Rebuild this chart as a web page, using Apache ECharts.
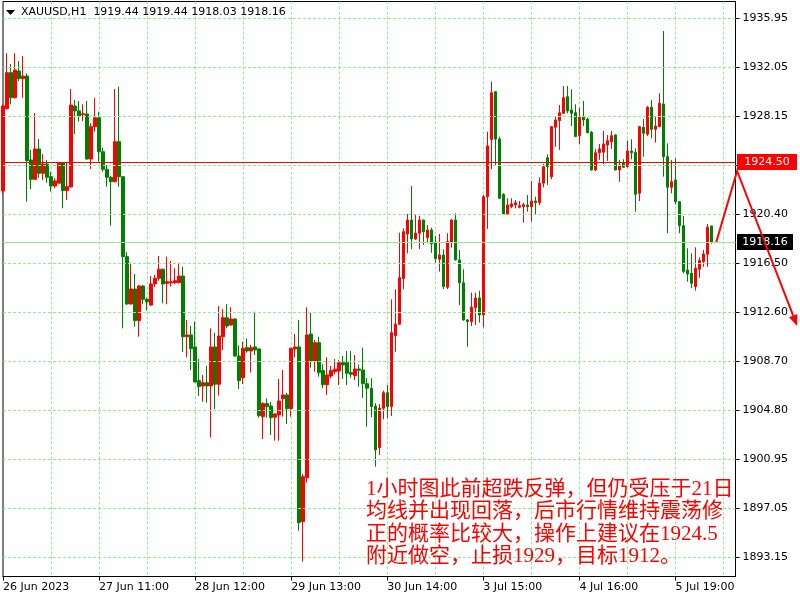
<!DOCTYPE html>
<html><head><meta charset="utf-8">
<script src="https://cdn.jsdelivr.net/npm/echarts@6/dist/echarts.min.js"></script>
<style>html,body{margin:0;padding:0;background:#fff}#c{width:800px;height:600px}</style>
</head><body><div id="c"></div>
<script>
const symbolName = 'XAUUSD,H1';
const opens = [1922.21,1928.75,1931.61,1929.62,1931.74,1931.13,1931.34,1924.68,1923.14,1925.55,
1923.62,1924.36,1923.35,1922.61,1922.83,1924.46,1922.24,1922.53,1928.96,1928.57,
1928.27,1928.33,1924.75,1927.32,1928.03,1925.33,1923.94,1923.30,1922.95,1926.13,
1923.35,1917.00,1913.24,1914.43,1911.92,1914.67,1913.61,1913.15,1914.83,1915.28,
1916.00,1914.88,1914.93,1914.93,1914.93,1915.46,1910.64,1910.78,1909.83,1907.15,
1906.73,1906.99,1906.73,1909.83,1906.87,1910.64,1912.15,1911.57,1912.05,1909.11,
1907.39,1909.77,1909.51,1909.83,1909.67,1904.29,1905.33,1905.14,1904.25,1904.43,
1905.72,1906.02,1904.93,1909.67,1909.83,1895.96,1899.45,1910.86,1908.72,1910.17,
1907.95,1906.83,1907.52,1907.87,1907.92,1908.58,1908.58,1907.79,1907.55,1908.08,
1908.00,1906.91,1906.55,1905.14,1901.83,1904.96,1906.20,1905.09,1910.72,1911.63,
1915.25,1918.80,1919.91,1918.40,1918.86,1919.91,1918.51,1919.12,1918.11,1916.79,
1917.13,1914.57,1918.11,1919.91,1916.74,1914.93,1911.97,1911.84,1912.95,1913.72,
1912.37,1921.76,1926.30,1930.10,1926.34,1921.95,1920.39,1920.97,1921.10,1920.92,
1920.97,1921.10,1920.97,1921.42,1921.28,1922.83,1924.86,1923.35,1927.27,1927.80,
1928.38,1929.70,1928.65,1928.43,1926.60,1928.09,1927.93,1926.87,1923.88,1925.25,
1925.29,1925.87,1926.13,1926.66,1923.88,1924.46,1924.14,1925.39,1925.29,1922.03,
1927.27,1926.72,1928.86,1927.11,1927.32,1929.12,1924.94,1922.51,1923.09,1921.36,
1919.46,1915.94,1915.68,1914.62,1916.00,1916.60,1917.19,1919.44];
const closes = [1928.96,1931.61,1929.62,1931.82,1931.13,1931.34,1924.62,1923.14,1925.55,1923.62,
1924.36,1923.30,1922.61,1923.01,1924.46,1922.24,1922.56,1929.04,1928.57,1928.17,
1928.35,1924.75,1927.32,1928.03,1925.33,1923.94,1923.30,1922.95,1926.13,1923.35,
1917.00,1913.24,1914.43,1911.92,1914.67,1913.61,1913.42,1914.83,1915.28,1916.00,
1914.83,1915.01,1915.01,1915.09,1915.46,1910.64,1910.78,1909.69,1907.05,1906.68,
1906.99,1906.73,1909.83,1906.87,1910.70,1912.15,1911.49,1912.05,1909.11,1907.15,
1909.72,1909.51,1909.77,1909.59,1904.37,1905.33,1905.09,1904.21,1904.51,1905.54,
1906.02,1904.93,1909.72,1909.83,1895.88,1899.53,1910.78,1908.72,1910.17,1907.79,
1906.83,1907.60,1907.95,1908.06,1908.58,1908.40,1907.74,1907.66,1908.08,1907.98,
1906.91,1906.55,1905.09,1901.65,1904.96,1906.20,1905.09,1910.96,1911.65,1915.33,
1918.98,1919.91,1918.40,1918.86,1919.91,1918.98,1919.12,1918.01,1916.84,1917.13,
1914.62,1918.19,1919.91,1916.74,1914.93,1911.97,1911.84,1912.98,1913.72,1912.37,
1921.76,1925.79,1930.02,1926.34,1921.63,1920.39,1921.10,1921.18,1921.28,1921.05,
1921.13,1920.97,1921.42,1921.28,1922.83,1924.14,1924.14,1927.32,1927.85,1928.43,
1929.62,1928.57,1928.38,1926.53,1928.11,1927.85,1926.84,1923.88,1925.25,1925.55,
1925.95,1926.21,1926.60,1923.88,1924.28,1924.10,1925.39,1925.25,1921.95,1927.32,
1926.80,1928.86,1927.11,1927.37,1929.18,1924.94,1922.51,1922.95,1921.36,1919.46,
1915.81,1915.62,1914.88,1916.08,1916.68,1917.21,1919.33,1918.16];
const lows = [1921.98,1928.70,1929.10,1929.55,1930.95,1929.62,1921.36,1922.35,1923.10,1923.27,
1923.09,1922.87,1922.16,1922.43,1922.83,1920.84,1921.50,1922.50,1926.74,1927.72,
1927.77,1924.70,1923.96,1926.92,1924.54,1923.75,1922.56,1919.46,1922.90,1922.56,
1911.31,1913.16,1913.20,1911.44,1910.64,1913.22,1912.71,1913.10,1914.57,1915.09,
1913.30,1913.22,1914.62,1914.83,1914.88,1909.43,1909.01,1908.00,1906.99,1905.94,
1905.48,1905.40,1902.63,1904.90,1905.96,1909.59,1911.31,1911.55,1909.05,1906.49,
1906.89,1909.37,1907.79,1909.19,1904.21,1902.52,1904.21,1902.84,1902.39,1902.39,
1904.29,1903.71,1904.29,1909.01,1895.24,1892.78,1899.05,1908.18,1907.87,1907.47,
1906.55,1906.02,1907.34,1907.66,1906.81,1907.29,1906.81,1907.39,1907.21,1906.68,
1905.78,1903.50,1904.25,1900.32,1901.25,1904.09,1904.17,1904.35,1909.45,1911.58,
1914.41,1917.27,1917.61,1918.32,1917.61,1917.93,1918.06,1917.31,1916.52,1915.81,
1914.43,1914.43,1917.71,1916.70,1913.16,1911.92,1909.85,1911.49,1911.57,1911.76,
1911.39,1919.20,1923.96,1924.28,1921.60,1920.35,1920.35,1920.84,1920.84,1920.84,
1919.70,1920.57,1919.78,1920.36,1921.10,1922.51,1922.69,1923.14,1925.73,1925.47,
1928.35,1928.38,1927.37,1926.50,1925.92,1927.37,1926.80,1923.83,1923.80,1924.68,
1924.33,1924.60,1925.55,1923.85,1922.95,1924.05,1924.10,1924.73,1920.57,1921.42,
1924.94,1926.58,1926.40,1926.05,1927.30,1923.35,1918.86,1922.03,1921.16,1918.86,
1915.68,1915.01,1914.49,1914.30,1915.33,1916.20,1916.20,1918.03];
const highs = [1929.12,1933.15,1932.30,1933.15,1932.54,1932.93,1931.56,1925.47,1928.38,1926.34,
1925.13,1924.68,1923.75,1923.22,1924.50,1924.50,1924.46,1930.31,1929.44,1929.36,
1929.10,1929.36,1927.59,1929.62,1928.51,1925.65,1924.28,1923.40,1930.31,1930.50,
1923.35,1917.35,1916.52,1915.62,1914.75,1914.75,1913.74,1915.46,1915.54,1917.05,
1916.05,1917.00,1916.66,1916.08,1916.52,1916.20,1911.97,1911.49,1911.84,1908.87,
1907.60,1908.32,1911.31,1910.96,1913.08,1912.82,1913.24,1912.98,1912.11,1909.96,
1910.25,1910.52,1909.99,1912.63,1909.72,1905.44,1905.75,1905.44,1904.56,1907.29,
1908.00,1906.20,1909.77,1910.86,1911.97,1899.74,1912.98,1912.55,1910.38,1910.64,
1908.45,1909.01,1908.32,1908.87,1908.80,1909.11,1909.51,1909.51,1909.19,1908.45,
1909.77,1907.34,1907.34,1905.36,1905.30,1906.36,1906.81,1913.61,1914.41,1918.90,
1919.25,1920.39,1922.61,1920.39,1920.23,1919.95,1919.51,1919.30,1918.64,1918.80,
1917.58,1918.86,1919.97,1920.44,1917.53,1916.00,1912.05,1914.14,1914.14,1914.30,
1921.90,1926.92,1930.89,1930.15,1926.53,1922.03,1921.63,1921.63,1921.50,1921.42,
1921.28,1921.90,1923.01,1921.76,1923.30,1924.36,1925.13,1927.37,1928.11,1929.04,
1930.55,1930.55,1930.29,1929.10,1928.83,1929.36,1928.03,1926.98,1925.55,1925.95,
1926.98,1926.66,1926.98,1926.72,1924.68,1924.73,1926.21,1926.32,1925.60,1927.37,
1927.93,1928.96,1929.44,1928.11,1929.97,1934.92,1926.00,1924.68,1924.81,1921.42,
1920.23,1917.66,1917.27,1917.74,1916.95,1917.53,1919.59,1919.44];

const xTickLabels = ['26 Jun 2023','27 Jun 11:00','28 Jun 12:00','29 Jun 13:00','30 Jun 14:00','3 Jul 15:00','4 Jul 16:00','5 Jul 19:00'];
const barsPerLabel = 24;
const barsPerGrid = 12;
const totalSlots = 184;
const yGridValues = [1935.95,1932.05,1928.15,1924.25,1920.40,1916.50,1912.60,1908.70,1904.80,1900.95,1897.05,1893.15];
const yLabelValues = [1935.95,1932.05,1928.15,1920.40,1916.50,1912.60,1908.70,1904.80,1900.95,1897.05,1893.15];
const yMin = 1891.60, yMax = 1937.26;
const levelLine = 1924.50;
const arrowPoints = [[178.2,1918.16],[183.4,1923.8],[198.4,1911.5]];
const noteLines = ['1小时图此前超跌反弹，但仍受压于21日','均线并出现回落，后市行情维持震荡修','正的概率比较大，操作上建议在1924.5','附近做空，止损1929，目标1912。'];

const last = opens.length - 1;
const bidLine = closes[last];
const FONT = 'DejaVu Sans';
const GREEN_GRID = '#90ee90';
const chart = echarts.init(document.getElementById('c'));
const cats = Array.from({length: totalSlots}, (_, i) => String(i));
const candleData = opens.map((o, i) => [o, closes[i], lows[i], highs[i]]);

chart.setOption({
  animation: false,
  backgroundColor: '#fff',
  grid: {left: 2.5, right: 64.5, top: 1.5, bottom: 23.5, show: true, borderColor: '#000', borderWidth: 1, backgroundColor: '#fff'},
  xAxis: {
    type: 'category', data: cats, boundaryGap: false,
    axisLine: {show: true, lineStyle: {color: '#000'}},
    axisTick: {show: true, interval: (i) => i % barsPerLabel === 0, length: 4, lineStyle: {color: '#000'}},
    axisLabel: {show: true, interval: (i) => i % barsPerLabel === 0 && i / barsPerLabel < xTickLabels.length,
      formatter: (v) => xTickLabels[Number(v) / barsPerLabel] || '', align: 'left',
      color: '#000', fontFamily: FONT, fontSize: 11, margin: 5},
    splitLine: {show: true, interval: (i) => i % barsPerGrid === 0 && i > 0, lineStyle: {color: GREEN_GRID, type: [3, 2], width: 1}}
  },
  yAxis: {
    type: 'value', position: 'right', min: yMin, max: yMax,
    axisLine: {show: true, lineStyle: {color: '#000'}},
    axisTick: {show: true, customValues: yGridValues, length: 4, lineStyle: {color: '#000'}},
    axisLabel: {customValues: yLabelValues, formatter: (v) => Number(v).toFixed(2), color: '#000', fontFamily: FONT, fontSize: 11, margin: 7},
    splitLine: {show: false}
  },
  series: [
    {type: 'line', data: [], z: 1, silent: true,
      markLine: {symbol: ['none', 'none'], silent: true, animation: false, label: {show: false},
        lineStyle: {color: GREEN_GRID, type: [3, 2], width: 1},
        data: yGridValues.map(v => ({yAxis: v}))}},
    {type: 'candlestick', data: candleData, z: 3, barWidth: 3,
      itemStyle: {color: '#ff0000', color0: '#008000', borderColor: '#ff0000', borderColor0: '#008000', borderWidth: 1},
      markLine: {symbol: ['none', 'none'], silent: true, animation: false, label: {show: false},
        data: [
          {yAxis: levelLine, lineStyle: {color: '#ff0000', width: 1, type: 'solid'}},
          {yAxis: bidLine, lineStyle: {color: GREEN_GRID, width: 1, type: 'solid'}}
        ]}}
  ]
});

const x0 = chart.convertToPixel({xAxisIndex: 0}, 0);
const x1 = chart.convertToPixel({xAxisIndex: 0}, totalSlots - 1);
const px = (p) => [x0 + (x1 - x0) * p[0] / (totalSlots - 1), chart.convertToPixel({yAxisIndex: 0}, p[1])];
const rightEdge = x1;
const yLevel = chart.convertToPixel({yAxisIndex: 0}, levelLine);
const yBid = chart.convertToPixel({yAxisIndex: 0}, bidLine);
const A = arrowPoints.map(px);
const tip = A[2], from = A[1];
const dx = tip[0] - from[0], dy = tip[1] - from[1], len = Math.hypot(dx, dy);
const ux = dx / len, uy = dy / len, hl = 11, hw = 4.5;
const bx = tip[0] - ux * hl, by = tip[1] - uy * hl;
const titleText = symbolName + '  ' + [opens[last], highs[last], lows[last], closes[last]].map(v => v.toFixed(2)).join(' ');

const graphics = [
  {type: 'polygon', z: 100, shape: {points: [[6, 10], [15, 10], [10.5, 15]]}, style: {fill: '#000'}},
  {type: 'text', z: 100, x: 21, y: 12, style: {text: titleText, fill: '#000', fontFamily: FONT, fontSize: 11, verticalAlign: 'middle'}},
  {type: 'rect', z: 100, shape: {x: rightEdge + 1.5, y: Math.round(yLevel) - 8, width: 60, height: 16}, style: {fill: '#ff0000'}},
  {type: 'text', z: 101, x: rightEdge + 31.5, y: Math.round(yLevel), style: {text: levelLine.toFixed(2), fill: '#fff', fontFamily: FONT, fontSize: 11, align: 'center', verticalAlign: 'middle'}},
  {type: 'rect', z: 100, shape: {x: rightEdge + 1.5, y: Math.round(yBid) - 8, width: 56, height: 16}, style: {fill: '#000'}},
  {type: 'text', z: 101, x: rightEdge + 29.5, y: Math.round(yBid), style: {text: bidLine.toFixed(2), fill: '#fff', fontFamily: FONT, fontSize: 11, align: 'center', verticalAlign: 'middle'}},
  {type: 'polyline', z: 102, shape: {points: [A[0], A[1], [bx, by]]}, style: {stroke: '#ff0000', lineWidth: 2, fill: null}},
  {type: 'polygon', z: 102, shape: {points: [tip, [bx - uy * hw, by + ux * hw], [bx + uy * hw, by - ux * hw]]}, style: {fill: '#ff0000'}}
];
noteLines.forEach((t, i) => {
  graphics.push({type: 'text', z: 100, x: 366, y: 489 + i * 22.5,
    style: {text: t, fill: '#ff0000', fontFamily: '"Liberation Serif", "Noto Sans CJK SC"', fontSize: 21, verticalAlign: 'middle'}});
});
chart.setOption({graphic: graphics});
</script>
</body></html>
